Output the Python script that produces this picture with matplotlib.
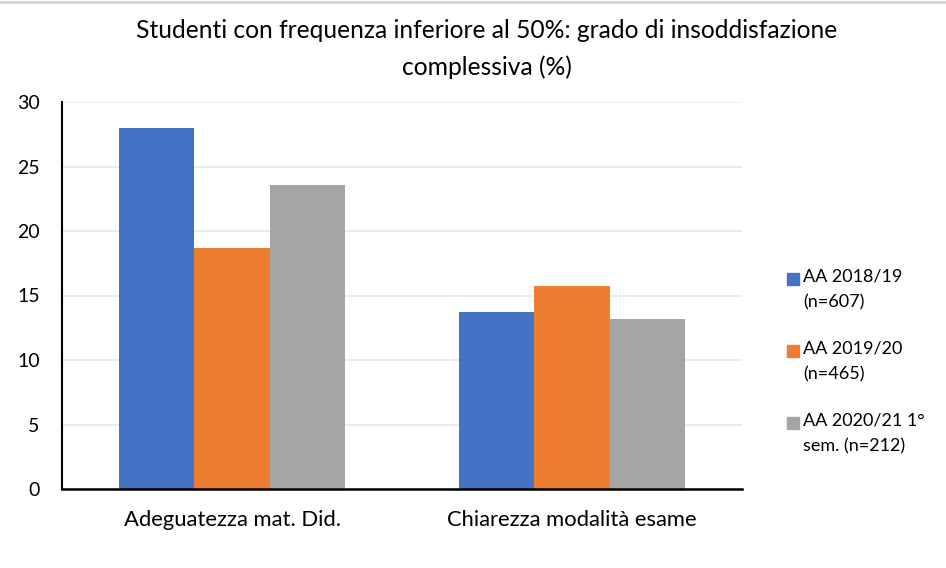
import matplotlib
matplotlib.use("Agg")
import matplotlib.pyplot as plt
from matplotlib.patches import Rectangle
from matplotlib.lines import Line2D
import numpy as np

categories = ["Adeguatezza mat. Did.", "Chiarezza modalità esame"]
series_labels = ["AA 2018/19\n(n=607)", "AA 2019/20\n(n=465)", "AA 2020/21 1°\nsem. (n=212)"]
series_values = [
    [28.0, 13.7],
    [18.7, 15.7],
    [23.6, 13.2],
]
colors = ["#4472C4", "#ED7D31", "#A5A5A5"]
yticks = [0, 5, 10, 15, 20, 25, 30]
title = "Studenti con frequenza inferiore al 50%: grado di insoddisfazione\ncomplessiva (%)"

plt.rcParams['font.family'] = ['Lato', 'DejaVu Sans']

W, H = 946, 568
fig = plt.figure(figsize=(W / 100, H / 100), dpi=100)
ax = fig.add_axes([62 / W, 1 - 489 / H, (742 - 62) / W, (489 - 102) / H])

x = np.arange(len(categories))
bw = 0.222
for i, (vals, c) in enumerate(zip(series_values, colors)):
    ax.bar(x + (i - 1) * bw, vals, width=bw, color=c, zorder=3)

ax.set_xlim(-0.5, len(categories) - 0.5)
ax.set_ylim(0, 30)
ax.set_yticks(yticks)
ax.set_yticklabels([str(t) for t in yticks], fontsize=14, color="#000000")
ax.set_xticks(x)
ax.set_xticklabels(categories, fontsize=15.8, color="#000000")
ax.tick_params(axis="y", length=0, pad=16)
ax.tick_params(axis="x", length=0, pad=15)
ax.grid(axis="y", color="#E8E8E8", linewidth=1.2, zorder=0)
for s in ["top", "right"]:
    ax.spines[s].set_visible(False)
ax.spines["left"].set_color("#000000")
ax.spines["left"].set_linewidth(1.5)
ax.spines["bottom"].set_color("#000000")
ax.spines["bottom"].set_linewidth(1.8)
ax.spines["bottom"].set_zorder(5)

fig.text(487 / W, 1 - 49 / H, title, ha="center", va="center", fontsize=17.7,
         linespacing=1.7, color="#000000")

# top border line
fig.add_artist(Line2D([0, 1], [1 - 1.5 / H, 1 - 1.5 / H], color="#D0D0D0", linewidth=2,
                      transform=fig.transFigure))

# legend
leg_y = [279, 351, 423]
for lab, c, yy in zip(series_labels, colors, leg_y):
    fig.add_artist(Rectangle((787 / W, 1 - (yy + 6) / H), 12 / W, 12 / H, color=c,
                             transform=fig.transFigure))
    fig.text(803 / W, 1 - (yy - 11) / H, lab, ha="left", va="top", fontsize=13,
             linespacing=1.75, color="#000000")

fig.savefig("out.png", dpi=100)
